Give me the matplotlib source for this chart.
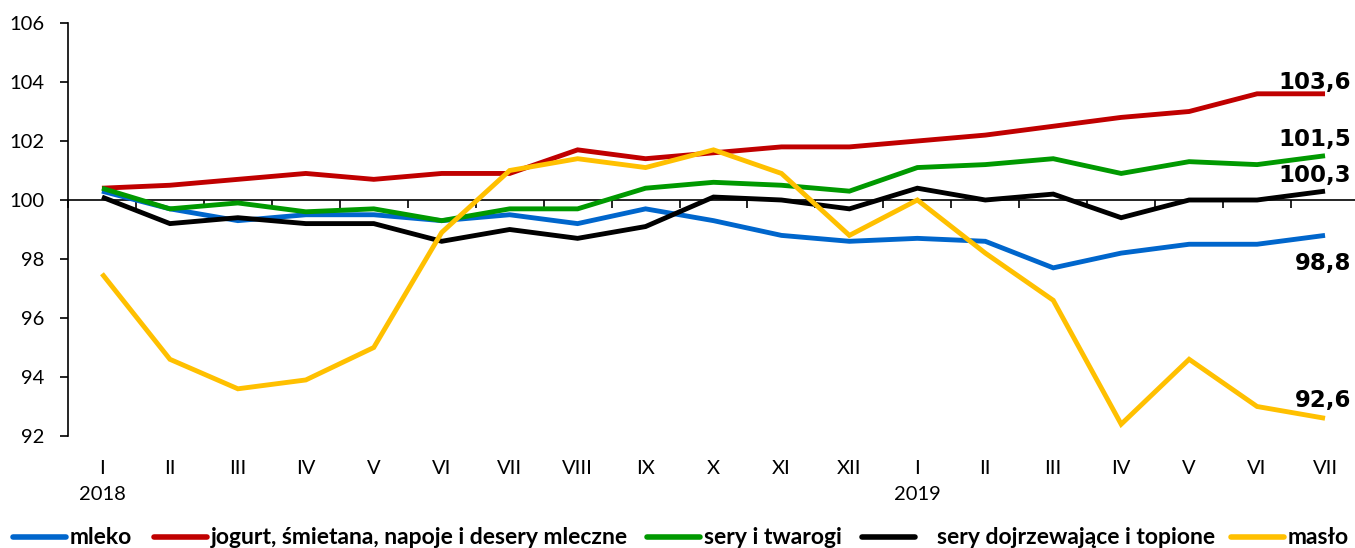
import matplotlib
matplotlib.use('Agg')
import matplotlib.pyplot as plt
from matplotlib.lines import Line2D
import matplotlib.transforms as mtransforms

# dane
months = ["I", "II", "III", "IV", "V", "VI", "VII", "VIII", "IX", "X", "XI", "XII",
          "I", "II", "III", "IV", "V", "VI", "VII"]
years = ["2018", "2019"]
year_pos = [0, 12]

mleko = [100.3, 99.7, 99.3, 99.5, 99.5, 99.3, 99.5, 99.2, 99.7, 99.3, 98.8, 98.6,
         98.7, 98.6, 97.7, 98.2, 98.5, 98.5, 98.8]
jogurt = [100.4, 100.5, 100.7, 100.9, 100.7, 100.9, 100.9, 101.7, 101.4, 101.6, 101.8, 101.8,
          102.0, 102.2, 102.5, 102.8, 103.0, 103.6, 103.6]
sery_tw = [100.4, 99.7, 99.9, 99.6, 99.7, 99.3, 99.7, 99.7, 100.4, 100.6, 100.5, 100.3,
           101.1, 101.2, 101.4, 100.9, 101.3, 101.2, 101.5]
sery_dt = [100.1, 99.2, 99.4, 99.2, 99.2, 98.6, 99.0, 98.7, 99.1, 100.1, 100.0, 99.7,
           100.4, 100.0, 100.2, 99.4, 100.0, 100.0, 100.3]
maslo = [97.5, 94.6, 93.6, 93.9, 95.0, 98.9, 101.0, 101.4, 101.1, 101.7, 100.9, 98.8,
         100.0, 98.2, 96.6, 92.4, 94.6, 93.0, 92.6]

series = [mleko, jogurt, sery_tw, sery_dt, maslo]
labels = ["mleko", "jogurt, śmietana, napoje i desery mleczne", "sery i twarogi",
          "sery dojrzewające i topione", "masło"]
end_labels = ["98,8", "103,6", "101,5", "100,3", "92,6"]

# styl
colors = ["#0066CC", "#C00000", "#009900", "#000000", "#FFC000"]
end_offsets = [-28, 11, 16, 16, 18]          # px, pionowo
legend_x = [13, 154, 647, 862, 1231]        # px, start linii
legend_text_gap = [4, 4, 4, 22, 4]

W, H = 1355, 548
fig = plt.figure(figsize=(W / 100, H / 100), dpi=100)
ax = fig.add_axes([68 / W, 112 / H, (1359 - 68) / W, 413 / H])

x = list(range(len(months)))
for s, c in zip(series, colors):
    ax.plot(x, s, color=c, lw=3.5, solid_joinstyle='miter', solid_capstyle='butt', zorder=3)

# etykiety koncowe
for s, txt, dy in zip(series, end_labels, end_offsets):
    ax.annotate(txt, (x[-1], s[-1]), xytext=(26, dy), textcoords='offset pixels',
                ha='right', va='center', fontsize=16.5, fontweight='bold',
                family='DejaVu Sans', color='black', annotation_clip=False, zorder=5)

ax.set_xlim(-0.5, len(months) - 0.5)
ax.set_ylim(92, 106)
ax.set_yticks(range(92, 107, 2))
ax.tick_params(axis='y', direction='out', length=6, width=1.2, labelsize=14.5, pad=11)
for lab in ax.get_yticklabels():
    lab.set_family('Lato')

ax.spines['top'].set_visible(False)
ax.spines['right'].set_visible(False)
ax.spines['left'].set_linewidth(1.2)
ax.spines['bottom'].set_position(('data', 100))
ax.spines['bottom'].set_linewidth(1.2)
ax.set_xticks([i - 0.5 for i in range(len(months) + 1)])
ax.set_xticklabels([])
ax.tick_params(axis='x', direction='out', length=6, width=1.2)

# podpisy osi X na dole
trans = mtransforms.blended_transform_factory(ax.transData, fig.transFigure)
for i, m in enumerate(months):
    ax.text(i, 1 - 468 / H, m, transform=trans, ha='center', va='center',
            fontsize=14.5, family='Lato')
for p, yr in zip(year_pos, years):
    ax.text(p, 1 - 495 / H, yr, transform=trans, ha='center', va='center',
            fontsize=14.5, family='Lato')

# legenda
ly = 1 - 537 / H
for lx, gap, c, lab in zip(legend_x, legend_text_gap, colors, labels):
    fig.add_artist(Line2D([lx / W, (lx + 53) / W], [ly, ly], color=c, lw=4,
                          transform=fig.transFigure, solid_capstyle='round'))
    fig.text((lx + 53 + gap) / W, ly, lab, ha='left', va='center', fontsize=16.5,
             fontweight='bold', family='Lato')

fig.savefig('out.png', dpi=100)
